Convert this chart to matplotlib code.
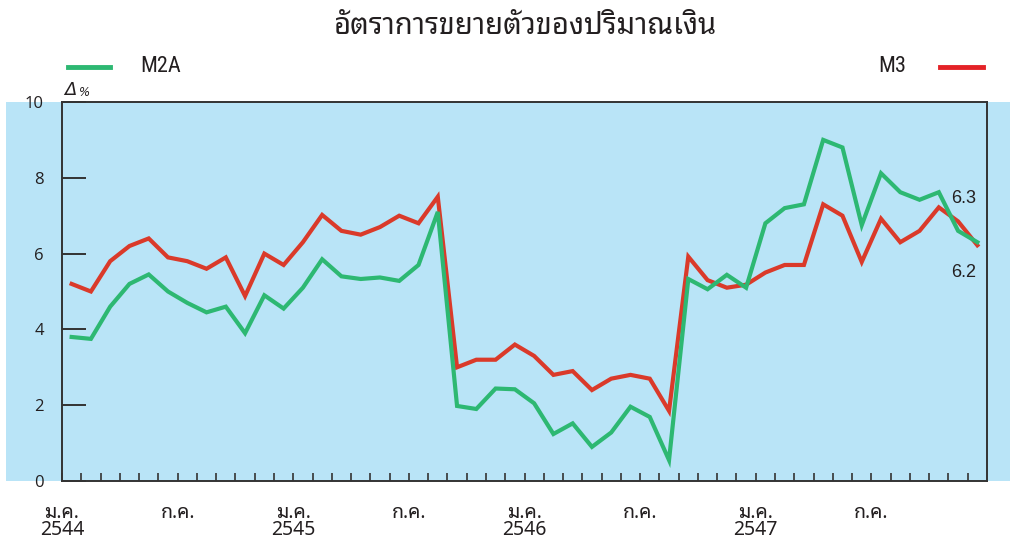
import matplotlib
matplotlib.use('Agg')
import matplotlib.pyplot as plt
from matplotlib.patches import Rectangle
from matplotlib.lines import Line2D

# monthly growth, ม.ค. 2544 - ธ.ค. 2547
m2a = [3.8, 3.75, 4.6, 5.2, 5.45, 5.0, 4.7, 4.45, 4.6, 3.9, 4.9, 4.55,
       5.1, 5.85, 5.4, 5.33, 5.37, 5.28, 5.7, 7.1, 1.98, 1.9, 2.44, 2.42,
       2.05, 1.24, 1.52, 0.9, 1.28, 1.96, 1.69, 0.55, 5.33, 5.06, 5.44, 5.1,
       6.8, 7.2, 7.3, 9.0, 8.8, 6.75, 8.12, 7.62, 7.42, 7.62, 6.6, 6.3]
m3 = [5.2, 5.0, 5.8, 6.2, 6.4, 5.9, 5.8, 5.6, 5.9, 4.88, 6.0, 5.7,
      6.3, 7.02, 6.6, 6.5, 6.7, 7.0, 6.8, 7.5, 3.0, 3.2, 3.2, 3.6,
      3.3, 2.8, 2.9, 2.4, 2.7, 2.8, 2.7, 1.85, 5.92, 5.3, 5.1, 5.18,
      5.5, 5.7, 5.7, 7.3, 7.0, 5.78, 6.92, 6.3, 6.6, 7.22, 6.85, 6.22]
month_labels = ['ม.ค.\n2544', 'ก.ค.', 'ม.ค.\n2545', 'ก.ค.',
                'ม.ค.\n2546', 'ก.ค.', 'ม.ค.\n2547', 'ก.ค.']
end_labels = ['6.3', '6.2']

GREEN = '#2DB872'
RED = '#DA3A2A'
BG = '#B9E4F7'
DARK = '#231F20'
THAI = ['Noto Sans Thai Looped', 'Noto Sans Thai', 'DejaVu Sans']
NUM = ['Open Sans', 'DejaVu Sans']
NARROW = ['Roboto Condensed', 'PT Sans Narrow', 'DejaVu Sans']

fig = plt.figure(figsize=(10.19, 5.4), dpi=100)
W, H = 1019, 540

# blue panel behind the axes and the y labels
fig.patches.append(Rectangle((6 / W, (H - 481) / H), (1010 - 6) / W, (481 - 102) / H,
                             transform=fig.transFigure, facecolor=BG, edgecolor='none', zorder=-10))

ax = fig.add_axes([62 / W, (H - 481) / H, (987 - 62) / W, (481 - 102) / H])
ax.set_facecolor(BG)

x = list(range(len(m3)))
ax.plot(x, m3, color=RED, lw=3.0, solid_joinstyle='miter', zorder=3)
ax.plot(x, m2a, color=GREEN, lw=3.0, solid_joinstyle='miter', zorder=4)

ax.set_xlim(-0.5, len(m3) - 0.5)
ax.set_ylim(0, 10)

ax.set_yticks(range(0, 11, 2))
ax.set_yticklabels([str(v) for v in range(0, 11, 2)], family=NUM, fontsize=12, color=DARK)
ax.tick_params(axis='y', direction='in', length=17, width=1.4, color='#333333', pad=13)

ax.set_xticks([k - 0.5 for k in range(0, len(m3), 6)])
ax.set_xticklabels(month_labels, family=THAI, fontsize=14, color=DARK, linespacing=0.8)
ax.set_xticks([k - 0.5 for k in range(1, len(m3))], minor=True)
ax.tick_params(axis='x', which='both', direction='in', length=6, width=1.2, color='#333333', pad=16)

for side in ['left', 'right', 'bottom', 'top']:
    ax.spines[side].set_linewidth(1.4)
    ax.spines[side].set_color('#333333')

# end values
ax.text(len(m3) - 1.7, 7.45, end_labels[0], family=['Liberation Sans', 'DejaVu Sans'],
        fontsize=13, color=DARK, ha='center', va='center')
ax.text(len(m3) - 1.7, 5.5, end_labels[1], family=['Liberation Sans', 'DejaVu Sans'],
        fontsize=13, color=DARK, ha='center', va='center')

# unit label
fig.text(64 / W, 1 - 90 / H, 'Δ', fontsize=13, style='italic', color=DARK, va='center', ha='left')
fig.text(79 / W, 1 - 92 / H, '%', fontsize=8.5, style='italic', color=DARK, va='center', ha='left')

# title
fig.text(526 / W, 1 - 27 / H, 'อัตราการขยายตัวของปริมาณเงิน', family=THAI, fontsize=21,
         fontweight='bold', color=DARK, ha='center', va='center')

# legend, drawn by hand in the top corners
fig.add_artist(Line2D([68 / W, 110 / W], [1 - 67 / H, 1 - 67 / H], color=GREEN, lw=3.5))
fig.text(140 / W, 1 - 67 / H, 'M2A', family=NARROW, fontsize=16, color=DARK, va='center', ha='left')
fig.add_artist(Line2D([940 / W, 983 / W], [1 - 67 / H, 1 - 67 / H], color='#E42227', lw=3.5))
fig.text(906 / W, 1 - 67 / H, 'M3', family=NARROW, fontsize=16, color=DARK, va='center', ha='right')

fig.savefig('out.png', dpi=100)
